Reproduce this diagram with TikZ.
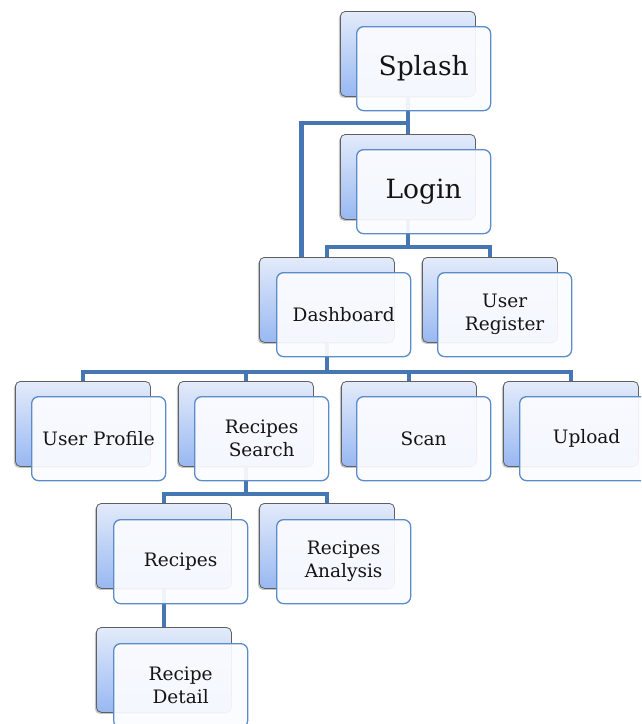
\documentclass[tikz,border=0pt]{standalone}
\usepackage{fontspec}
\setmainfont{DejaVu Serif}
\usetikzlibrary{shadows}
\definecolor{backtop}{HTML}{E3EBFA}
\definecolor{backbottom}{HTML}{98B8F2}
\definecolor{backline}{HTML}{606060}
\definecolor{frontline}{HTML}{5B8BC8}
\definecolor{frontfill}{HTML}{FBFCFF}
\definecolor{connline}{HTML}{4677B2}
\definecolor{textcol}{HTML}{141414}
\tikzset{
  backbox/.style={draw=backline, line width=0.8pt, rounded corners=5pt,
    top color=backtop, bottom color=backbottom,
    minimum width=135pt, minimum height=85pt, anchor=north west, inner sep=0pt,
    drop shadow={shadow xshift=-1.5pt, shadow yshift=-1.5pt, opacity=0.45}},
  frontbox/.style={draw=frontline, line width=1.3pt, rounded corners=7pt,
    fill=frontfill, fill opacity=0.93, text opacity=1, text=textcol,
    minimum width=134pt, minimum height=84pt, anchor=north west, inner sep=0pt,
    align=center, font=\fontsize{18.5}{23}\selectfont},
  bigtext/.style={font=\fontsize{26.5}{30}\selectfont},
  conn/.style={draw=connline, line width=4.5pt}
}
\begin{document}
\begin{tikzpicture}[x=1pt,y=-1pt]
\fill[white] (0,0) rectangle (641,724);
\clip (0,0) rectangle (641,724);
% back boxes
\node[backbox] (splashb) at (340,11) {};
\node[backbox] (loginb) at (340,134) {};
\node[backbox] (dashb) at (259,257) {};
\node[backbox] (regb) at (422,257) {};
\node[backbox] (profb) at (15,381) {};
\node[backbox] (searchb) at (178,381) {};
\node[backbox] (scanb) at (341,381) {};
\node[backbox] (uplb) at (503,381) {};
\node[backbox] (recb) at (96,503) {};
\node[backbox] (anab) at (259,503) {};
\node[backbox] (detb) at (96,627) {};
% connectors
\draw[conn] (splashb.south) -- ++(0,26) -| (loginb.north);
\draw[conn] (splashb.south) -- ++(0,26) -| ([xshift=-25.5pt]dashb.north);
\draw[conn] (loginb.south) -- ++(0,27) -| (dashb.north);
\draw[conn] (loginb.south) -- ++(0,27) -| (regb.north);
\draw[conn] (dashb.south) -- ++(0,29) -| (profb.north);
\draw[conn] (dashb.south) -- ++(0,29) -| (searchb.north);
\draw[conn] (dashb.south) -- ++(0,29) -| (scanb.north);
\draw[conn] (dashb.south) -- ++(0,29) -| (uplb.north);
\draw[conn] (searchb.south) -- ++(0,27) -| (recb.north);
\draw[conn] (searchb.south) -- ++(0,27) -| (anab.north);
\draw[conn] (recb.south) -- (detb.north);
% front boxes
\node[frontbox, bigtext] (splash) at (356,26) {Splash};
\node[frontbox, bigtext] (login) at (356,149) {Login};
\node[frontbox] (dash) at (276,272) {Dashboard};
\node[frontbox] (reg) at (437,272) {User\\Register};
\node[frontbox] (prof) at (31,396) {User Profile};
\node[frontbox] (search) at (194,396) {Recipes\\Search};
\node[frontbox] (scan) at (356,396) {Scan};
\node[frontbox] (upl) at (519,396) {Upload};
\node[frontbox] (rec) at (113,519) {Recipes};
\node[frontbox] (ana) at (276,519) {Recipes\\Analysis};
\node[frontbox] (det) at (113,643) {Recipe\\Detail};
\end{tikzpicture}
\end{document}
